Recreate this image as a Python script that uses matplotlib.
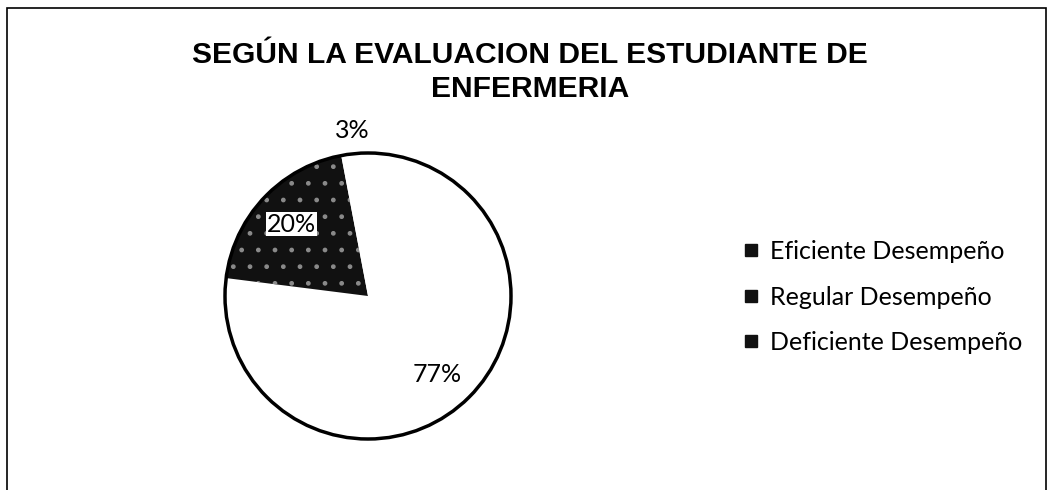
import numpy as np
import matplotlib
matplotlib.use("Agg")
import matplotlib.pyplot as plt
from matplotlib.lines import Line2D
from matplotlib.patches import Rectangle

# data
categories = ["Eficiente Desempeño", "Regular Desempeño", "Deficiente Desempeño"]
values = [77, 20, 3]
slice_colors = ["white", "#111111", "white"]
title = "SEGÚN LA EVALUACION DEL ESTUDIANTE DE\nENFERMERIA"

fig = plt.figure(figsize=(10.5, 4.9), dpi=100)

# outer frame of the chart area
fig.patches.append(Rectangle((7 / 1050, -0.05), 1039 / 1050, (482 / 490) + 0.05,
                             transform=fig.transFigure, fill=False,
                             edgecolor="black", linewidth=1.2))

# pie axes: square 300 px box centred at (368, 296)
ax = fig.add_axes([(368 - 150) / 1050, (194 - 150) / 490, 300 / 1050, 300 / 490])
wedges, texts, autotexts = ax.pie(values, colors=slice_colors, startangle=90,
                                  counterclock=False, autopct="%1.0f%%",
                                  pctdistance=0.735, radius=1.0,
                                  wedgeprops=dict(linewidth=0),
                                  textprops=dict(fontsize=18, family="Lato"))
ax.set_xlim(-150 / 143, 150 / 143)
ax.set_ylim(-150 / 143, 150 / 143)
ax.set_aspect("equal")
ax.axis("off")

# outline of the whole pie
circle = plt.Circle((0, 0), 1.0, fill=False, edgecolor="black", linewidth=2.5)
ax.add_patch(circle)

# speckles on the dark slice
wedges[1].set_hatch(".")
wedges[1].set_edgecolor("#8a8a8a")
wedges[1].set_linewidth(0)

# 20% label has white box, 3% label sits outside
autotexts[1].set_bbox(dict(facecolor="white", edgecolor="none", pad=0.5))
w = wedges[2]
mid = np.deg2rad((w.theta1 + w.theta2) / 2)
autotexts[2].set_position((1.16 * np.cos(mid), 1.16 * np.sin(mid)))

fig.text(530 / 1050, 1 - 72 / 490, title, ha="center", va="center",
         fontsize=21.6, fontweight="bold", family="Liberation Sans",
         linespacing=1.25)

handles = [Line2D([], [], linestyle="none", marker="s", markersize=8,
                  markerfacecolor="#111111", markeredgecolor="#111111")
           for _ in categories]
fig.legend(handles, categories, loc="center left",
           bbox_to_anchor=(731 / 1050, 1 - 297 / 490), frameon=False,
           prop=dict(family="Lato", size=18), handlelength=0.6,
           handletextpad=0.45, labelspacing=0.9, borderpad=0)

fig.savefig("out.png", dpi=100)
